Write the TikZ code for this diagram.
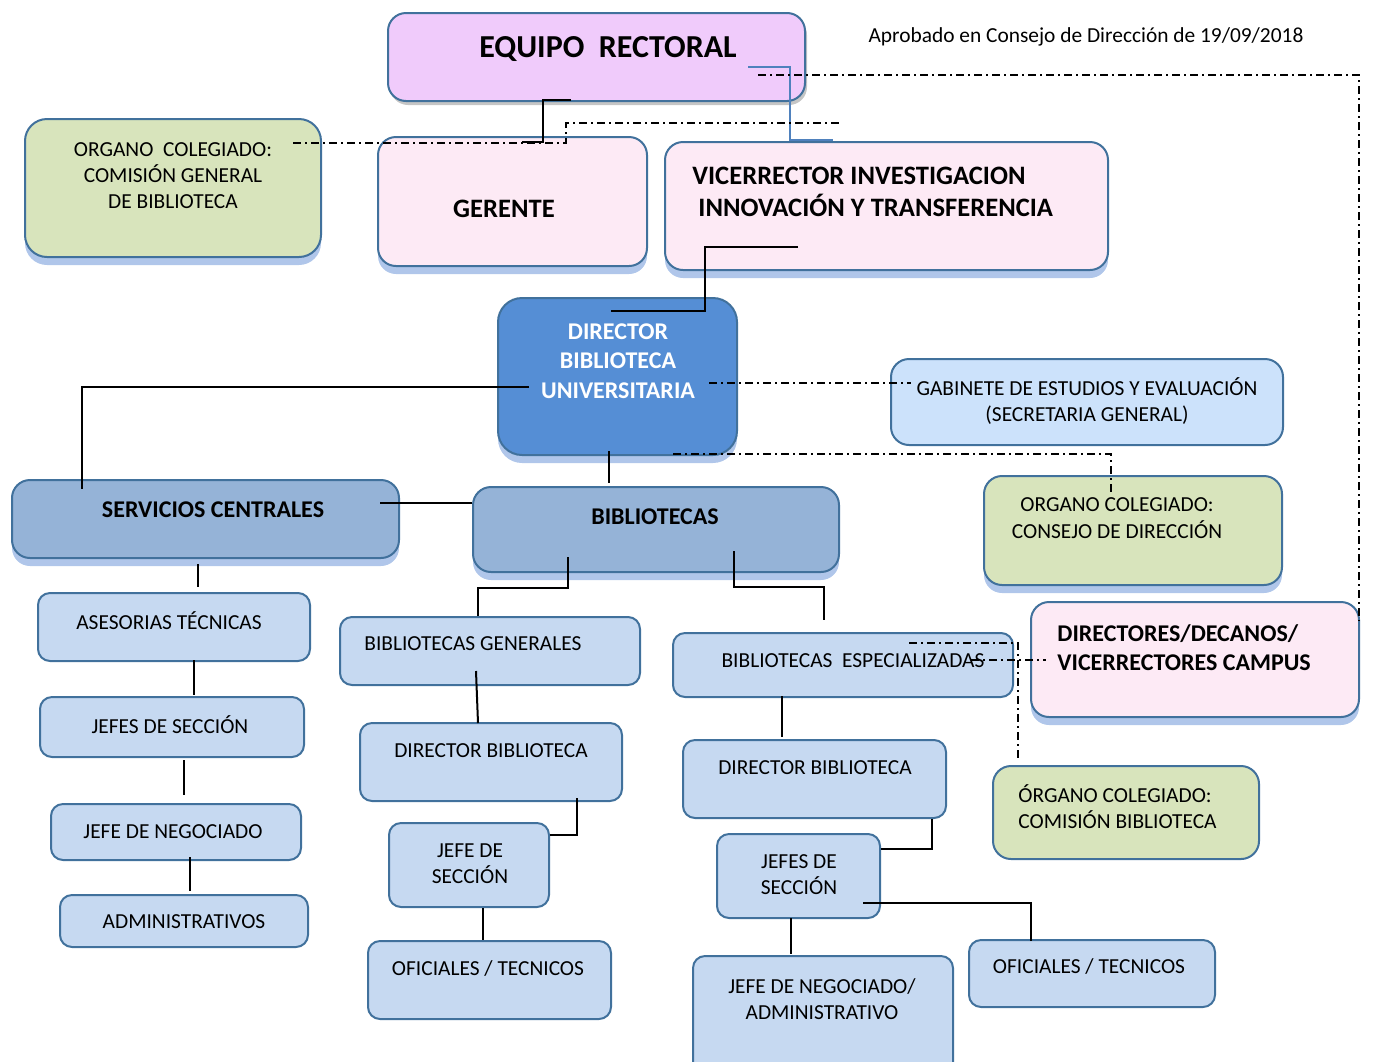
\documentclass[tikz,border=0pt]{standalone}
\usepackage{fontspec}
\setmainfont{Carlito}
\usetikzlibrary{fit, shadows, positioning}

\definecolor{rectorfill}{HTML}{F0CBFB}
\definecolor{pinkfill}{HTML}{FDEAF5}
\definecolor{greenfill}{HTML}{D8E4BC}
\definecolor{dirfill}{HTML}{558ED5}
\definecolor{midfill}{HTML}{95B3D7}
\definecolor{lightfill}{HTML}{C6D9F1}
\definecolor{gabfill}{HTML}{CCE2FB}
\definecolor{edgeblue}{HTML}{41719C}
\definecolor{glowblue}{HTML}{4F81D0}
\definecolor{linkblue}{HTML}{4F81BD}

\begin{document}
\begin{tikzpicture}[x=0.5pt, y=-0.5pt,
    % boxes
    box/.style={draw=edgeblue, line width=1pt, rounded corners=9pt, inner sep=0pt},
    glow/.style={drop shadow={shadow xshift=0pt, shadow yshift=-4pt, fill=glowblue, opacity=0.45}},
    rectorbox/.style={box, fill=rectorfill, drop shadow={shadow xshift=1pt, shadow yshift=-2pt, fill=black!45, opacity=0.5}},
    pinkbox/.style={box, glow, fill=pinkfill},
    greenbox/.style={box, glow, fill=greenfill},
    dirbox/.style={box, glow, fill=dirfill, rounded corners=12pt},
    midbox/.style={box, glow, fill=midfill},
    gabbox/.style={box, fill=gabfill},
    unitbox/.style={box, fill=lightfill, rounded corners=6pt},
    % texts
    txt/.style={font=\fontsize{10.7}{13}\selectfont, align=center, inner sep=0pt},
    btxt/.style={txt, font=\bfseries\fontsize{12}{15}\selectfont},
    bigtxt/.style={txt, font=\bfseries\fontsize{13.3}{16}\selectfont},
    % connectors
    link/.style={line width=1pt},
    bluelink/.style={line width=0.9pt, draw=linkblue},
    dotlink/.style={line width=0.8pt, dash pattern=on 4pt off 2pt on 1pt off 2pt}]

\useasboundingbox (0,0) rectangle (1384,1061);

% top level
\node[rectorbox, fit={(388,13) (805,101)}] (rector) {};
\node[btxt, font=\bfseries\fontsize{16}{19}\selectfont] (rector-t) at (608,49) {EQUIPO\ \ RECTORAL};
\node[txt] (aprob) at (1086,37) {Aprobado en Consejo de Dirección de 19/09/2018};

\node[greenbox, rounded corners=11pt, fit={(25,119) (321,257)}] (comgen) {};
\node[txt] (comgen-t) at (173,176) {ORGANO\ \ COLEGIADO:\\COMISIÓN GENERAL\\DE BIBLIOTECA};
\node[pinkbox, fit={(378,137) (647,266)}] (gerente) {};
\node[bigtxt] (gerente-t) at (504,209) {GERENTE};
\node[pinkbox, fit={(665,142) (1108,270)}] (vice) {};
\node[bigtxt, align=left, anchor=west] (vice-t) at (692,192) {VICERRECTOR INVESTIGACION\\\ INNOVACIÓN Y TRANSFERENCIA};

% director
\node[dirbox, fit={(498,298) (737,455)}] (dir) {};
\node[btxt, text=white, font=\bfseries\fontsize{12}{14.75}\selectfont] (dir-t) at (618,361) {DIRECTOR\\BIBLIOTECA\\UNIVERSITARIA};
\node[gabbox, fit={(891,359) (1283,445)}] (gab) {};
\node[txt] (gab-t) at (1087,401) {GABINETE DE ESTUDIOS Y EVALUACIÓN\\(SECRETARIA GENERAL)};
\node[greenbox, fit={(984,476) (1282,585)}] (consejo) {};
\node[txt, font=\fontsize{10.7}{13.5}\selectfont] (consejo-t) at (1117,518) {ORGANO COLEGIADO:\\CONSEJO DE DIRECCIÓN};
\node[pinkbox, fit={(1031,602) (1359,717)}] (decanos) {};
\node[btxt, align=left, anchor=west, font=\bfseries\fontsize{12}{14.5}\selectfont] (decanos-t) at (1057,648) {DIRECTORES/DECANOS/\\VICERRECTORES CAMPUS};
\node[box, fill=greenfill, fit={(993,766) (1259,859)}] (comb) {};
\node[txt, align=left, anchor=west] (comb-t) at (1018,807) {ÓRGANO COLEGIADO:\\COMISIÓN BIBLIOTECA};

\node[midbox, fit={(12,480) (399,558)}] (serv) {};
\node[btxt] (serv-t) at (213,510) {SERVICIOS CENTRALES};
\node[midbox, fit={(473,487) (839,572)}] (bib) {};
\node[btxt] (bib-t) at (655,517) {BIBLIOTECAS};

% servicios centrales column
\node[unitbox, fit={(38,593) (310,661)}] (ases) {};
\node[txt] (ases-t) at (169,621) {ASESORIAS TÉCNICAS};
\node[unitbox, fit={(40,697) (304,757)}] (jsec) {};
\node[txt] (jsec-t) at (170,725) {JEFES DE SECCIÓN};
\node[unitbox, fit={(51,804) (301,860)}] (jneg) {};
\node[txt] (jneg-t) at (173,832) {JEFE DE NEGOCIADO};
\node[unitbox, fit={(60,895) (308,947)}] (adm) {};
\node[txt] (adm-t) at (184,922) {ADMINISTRATIVOS};

% bibliotecas generales column
\node[unitbox, fit={(340,617) (640,685)}] (gen) {};
\node[txt, anchor=west] (gen-t) at (364,644) {BIBLIOTECAS GENERALES};
\node[unitbox, fit={(360,723) (622,801)}] (dirg) {};
\node[txt] (dirg-t) at (491,751) {DIRECTOR BIBLIOTECA};
\node[unitbox, fit={(389,823) (549,907)}] (jsg) {};
\node[txt] (jsg-t) at (470,864) {JEFE DE\\SECCIÓN};
\node[unitbox, fit={(368,941) (611,1019)}] (ofg) {};
\node[txt] (ofg-t) at (488,969) {OFICIALES / TECNICOS};

% bibliotecas especializadas column
\node[unitbox, fit={(673,633) (1013,697)}] (esp) {};
\node[txt] (esp-t) at (853,661) {BIBLIOTECAS\ \ ESPECIALIZADAS};
\node[unitbox, fit={(683,740) (946,818)}] (dire) {};
\node[txt] (dire-t) at (815,768) {DIRECTOR BIBLIOTECA};
\node[unitbox, fit={(717,834) (880,918)}] (jse) {};
\node[txt] (jse-t) at (799,875) {JEFES DE\\SECCIÓN};
\node[unitbox, fit={(693,956) (953,1075)}] (jna) {};
\node[txt] (jna-t) at (822,999) {JEFE DE NEGOCIADO/\\ADMINISTRATIVO};
\node[unitbox, fit={(969,940) (1215,1007)}] (ofe) {};
\node[txt] (ofe-t) at (1089,967) {OFICIALES / TECNICOS};

% connectors, top
\draw[link] ([shift={(-25.5,-2)}]rector.south) -| ([shift={(30.5,6)}]gerente.north) -- ++(-21,0);
\draw[bluelink] ([shift={(-58,10)}]rector.east) -| ([shift={(-96.5,-1)}]vice.north) -- ++(43,0);
\draw[dotlink] ([shift={(-48,18)}]rector.east) -| ([shift={(-1,20)}]decanos.north east);
\draw[dotlink] ([shift={(-29,-45)}]comgen.east) -- ++(273,0) -- ++(0,-20) -- ++(274,0);
\draw[link] ([shift={(-88.5,-24)}]vice.south) -- ++(-93,0) |- ([shift={(-6.5,14)}]dir.north);

% connectors, director
\draw[link] ([shift={(32,10.5)}]dir.west) -| ([shift={(71,10)}]serv.north west);
\draw[dotlink] ([shift={(-29,6.5)}]dir.east) -- ([shift={(21,-19)}]gab.west);
\draw[dotlink] ([shift={(55.5,-2)}]dir.south) -| ([shift={(-22,19)}]consejo.north);
\draw[link] ([shift={(-8.5,-5)}]dir.south) -- ([shift={(-47,-3)}]bib.north);
\draw[link] ([shift={(-20,-16)}]serv.east) -- ([shift={(0,-26.5)}]bib.west);

% connectors, servicios centrales
\draw[link] ([shift={(-7.5,5)}]serv.south) -- ([shift={(24,-5)}]ases.north);
\draw[link] ([shift={(20,-2)}]ases.south) -- ([shift={(22,-1)}]jsec.north);
\draw[link] ([shift={(12,2)}]jsec.south) -- ([shift={(8,-8)}]jneg.north);
\draw[link] ([shift={(14,-4)}]jneg.south) -- ([shift={(6,-3)}]adm.north);

% connectors, bibliotecas
\draw[link] ([shift={(-88,-16)}]bib.south) -- ++(0,31) -| ([shift={(-12,0)}]gen.north);
\draw[link] ([shift={(78,-22)}]bib.south) -- ++(0,36) -| ([shift={(-19,-12)}]esp.north);
\draw[link] ([shift={(-14,-15)}]gen.south) -- ([shift={(-13,1)}]dirg.north);
\draw[link] ([shift={(86,-4)}]dirg.south) |- ([shift={(0,-30)}]jsg.east);
\draw[link] ([shift={(14,0)}]jsg.south) -- ([shift={(-6.5,0)}]ofg.north);
\draw[link] ([shift={(-61,-2)}]esp.south) -- ([shift={(-32.5,-2)}]dire.north);
\draw[link] ([shift={(-15,0)}]dire.south east) |- ([shift={(0,-27)}]jse.east);
\draw[link] ([shift={(-7.5,-1)}]jse.south) -- ([shift={(-32,-1)}]jna.north);
\draw[link] ([shift={(-18,27)}]jse.east) -| ([shift={(-61,2)}]ofe.north);
\draw[dotlink] ([shift={(-43,-5)}]esp.east) -- ([shift={(16,0.5)}]decanos.west);
\draw[dotlink] ([shift={(-105,-22)}]esp.east) -| ([shift={(-108,-4)}]comb.north);

\end{tikzpicture}
\end{document}
